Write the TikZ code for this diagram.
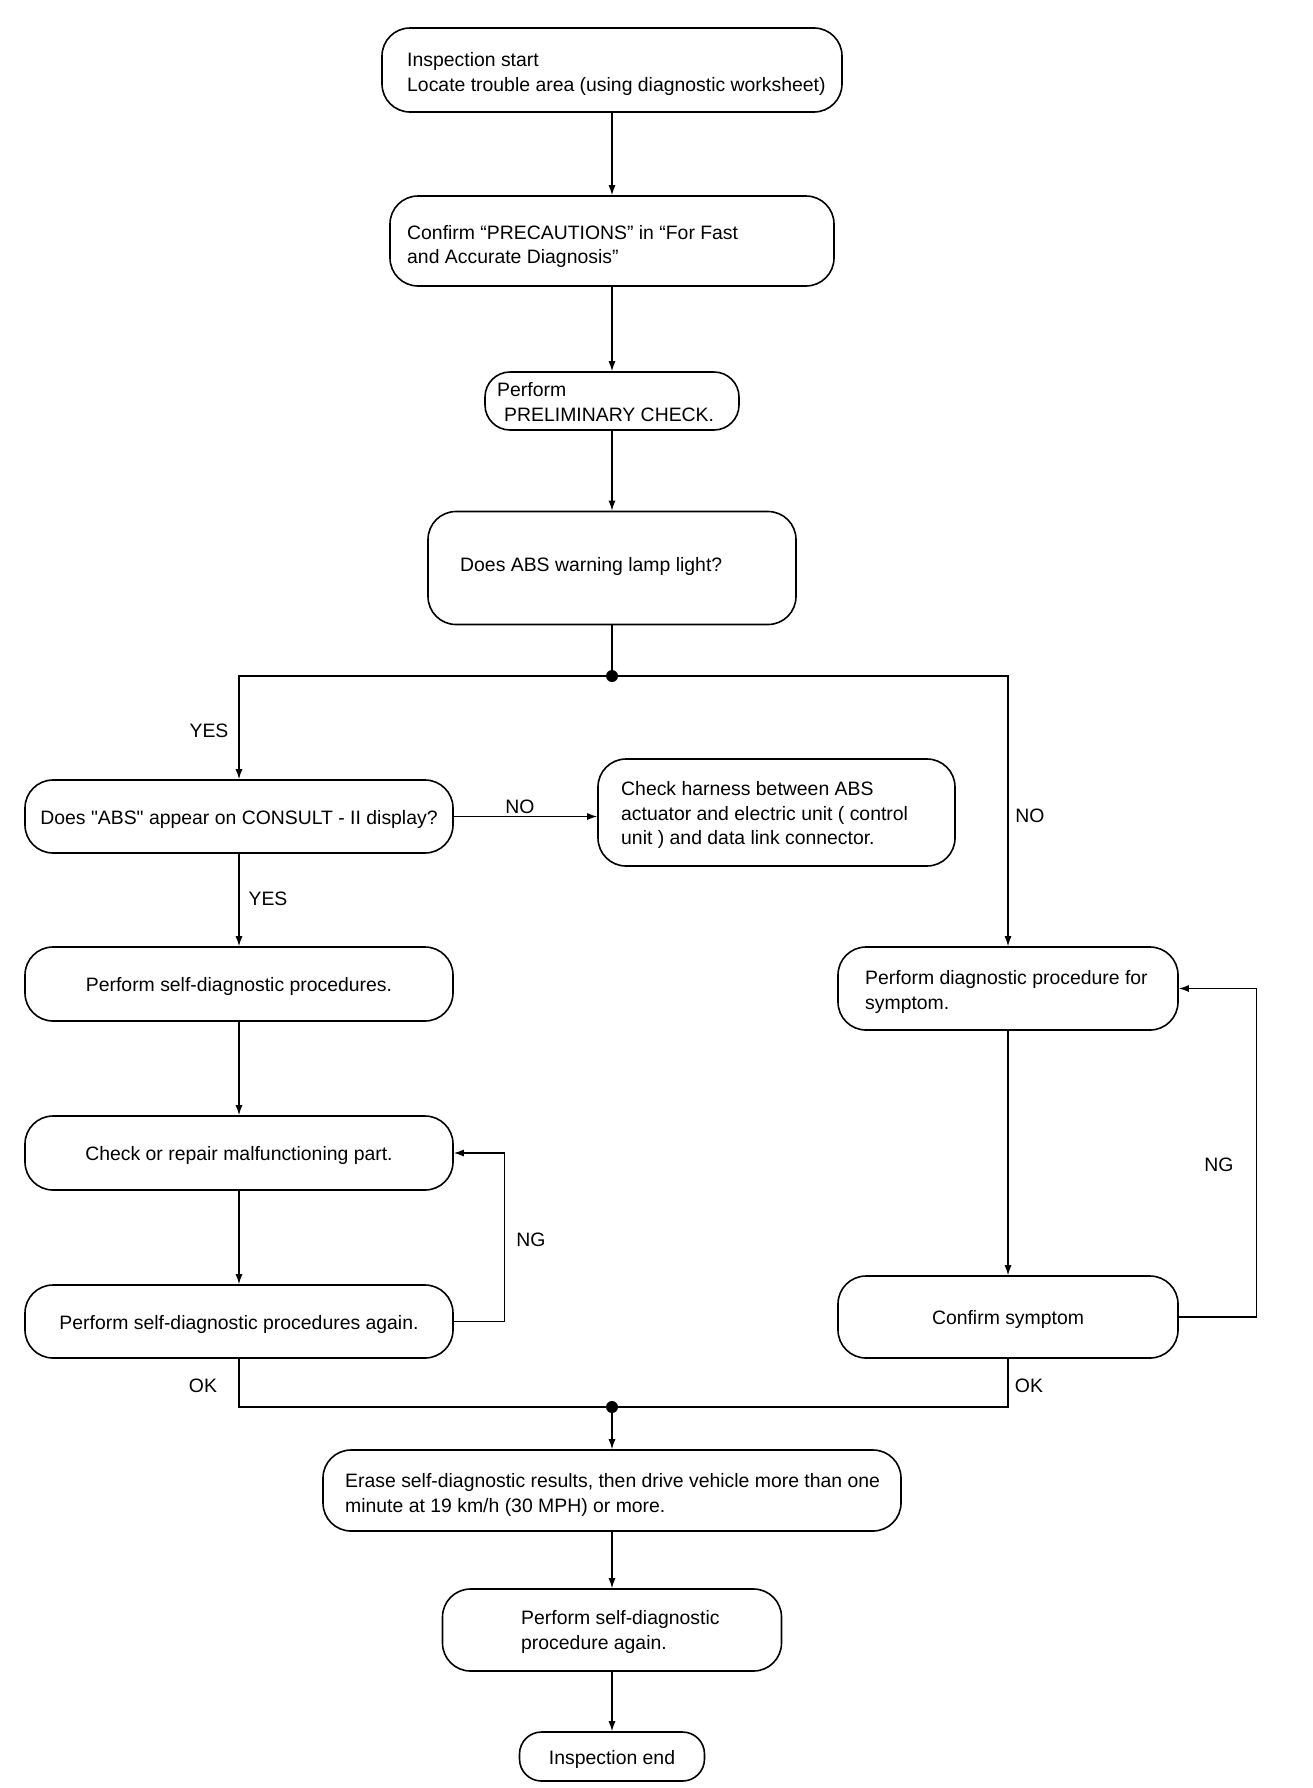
\documentclass[tikz,border=0pt]{standalone}
\usepackage{fontspec}
\setmainfont{Liberation Sans}
\usetikzlibrary{arrows.meta}
\begin{document}
\begin{tikzpicture}[x=1pt,y=-1pt,
  box/.style={draw, line width=1.6pt, rounded corners=28pt, inner sep=0pt, align=center,
    text height=19pt, text depth=4pt,
    font=\fontsize{19.4}{24.5}\selectfont},
  txt/.style={inner sep=0pt, align=left, anchor=west, font=\fontsize{19.4}{24.5}\selectfont},
  lbl/.style={inner sep=0pt, font=\fontsize{19.4}{24.5}\selectfont},
  conn/.style={line width=1.3pt},
  arr/.style={conn, -{Latex[length=10pt,width=7pt]}},
  dot/.style={circle, fill, inner sep=0pt, minimum size=12pt}]
\useasboundingbox (0,0) rectangle (1312,1788);

% central column
\node[box, minimum width=460pt, minimum height=84pt] (b1) at (612,70) {};
\node[txt] (t1) at (407,74) {Inspection start\\Locate trouble area (using diagnostic worksheet)};

\node[box, minimum width=444pt, minimum height=90pt] (b2) at (612,241) {};
\node[txt] (t2) at (407,246.5) {Confirm “PRECAUTIONS” in “For Fast\\and Accurate Diagnosis”};

\node[box, rounded corners=25pt, minimum width=254pt, minimum height=58pt] (b3) at (612,401) {};
\node[txt] (t3) at (497,402) {Perform\\\hspace*{7pt}PRELIMINARY CHECK.};

\node[box, minimum width=368pt, minimum height=113pt] (b4) at (612,568) {};
\node[txt] (t4) at (460,566) {Does ABS warning lamp light?};

\node[dot] (j1) at (612,676) {};

% left column
\node[box, minimum width=428pt, minimum height=73pt] (b5) at (239,816.5) {Does \textquotedbl ABS\textquotedbl{} appear on CONSULT - II display?};

\node[box, minimum width=357pt, minimum height=107pt] (b7) at (776.5,812.5) {};
\node[txt] (t7) at (621,815) {Check harness between ABS\\actuator and electric unit ( control\\unit ) and data link connector.};

\node[box, minimum width=428pt, minimum height=74pt] (b6) at (239,984) {Perform self-diagnostic procedures.};
\node[box, minimum width=428pt, minimum height=74pt] (b8) at (239,1153) {Check or repair malfunctioning part.};
\node[box, minimum width=428pt, minimum height=73pt] (b9) at (239,1321.5) {Perform self-diagnostic procedures again.};

% right column
\node[box, minimum width=340pt, minimum height=83pt] (b10) at (1008,988.5) {};
\node[txt] (t10) at (865,992) {Perform diagnostic procedure for\\symptom.};
\node[box, minimum width=340pt, minimum height=82pt] (b11) at (1008,1317) {Confirm symptom};

% bottom
\node[dot] (j2) at (612,1407) {};

\node[box, minimum width=578pt, minimum height=81pt] (b12) at (612,1490.5) {};
\node[txt] (t12) at (345,1495) {Erase self-diagnostic results, then drive vehicle more than one\\minute at 19 km/h (30 MPH) or more.};

\node[box, minimum width=339pt, minimum height=82pt] (b13) at (612,1630) {};
\node[txt] (t13) at (521,1632) {Perform self-diagnostic\\procedure again.};

\node[box, rounded corners=22pt, minimum width=185pt, minimum height=49pt] (b14) at (612,1756.5) {Inspection end};

% connectors
\draw[arr] (b1.south) -- (b2.north);
\draw[arr] (b2.south) -- (b3.north);
\draw[arr] (b3.south) -- (b4.north);
\draw[conn, line width=1.8pt] (b4.south) -- (j1.center);
\draw[arr] (j1.center) -| (b5.north);
\draw[arr] (j1.center) -| (b10.north);
\draw[arr] (b5.east) -- (b5.east -| b7.west);
\draw[arr] (b5.south) -- (b6.north);
\draw[arr] (b6.south) -- (b8.north);
\draw[arr] (b8.south) -- (b9.north);
\draw[arr] (b9.east) -- ++(51,0) |- (b8.east);
\draw[arr] (b10.south) -- (b11.north);
\draw[arr] (b11.east) -- ++(78,0) |- (b10.east);
\draw[conn] (b9.south) |- (j2.center);
\draw[conn] (b11.south) |- (j2.center);
\draw[arr] (j2.center) -- (b12.north);
\draw[arr] (b12.south) -- (b13.north);
\draw[arr] (b13.south) -- (b14.north);

% labels
\node[lbl] (l1) at (209,731) {YES};
\node[lbl] (l2) at (268,899) {YES};
\node[lbl] (l3) at (520,807) {NO};
\node[lbl] (l4) at (1030,816) {NO};
\node[lbl] (l5) at (531,1240) {NG};
\node[lbl] (l6) at (1219,1165) {NG};
\node[lbl] (l7) at (203,1386) {OK};
\node[lbl] (l8) at (1029,1386) {OK};
\end{tikzpicture}
\end{document}
